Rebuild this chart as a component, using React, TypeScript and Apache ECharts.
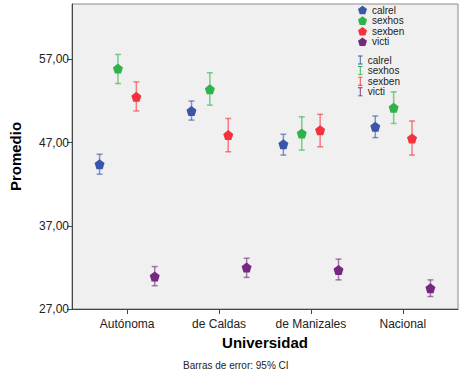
import React, { useEffect, useRef } from "react";
import * as echarts from "echarts";

const categories = ["Autónoma", "de Caldas", "de Manizales", "Nacional"];
const seriesNames = ["calrel", "sexhos", "sexben", "victi"];
const yTicks = [27, 37, 47, 57];

const calrelMean = [44.4, 50.8, 46.8, 48.9];
const calrelLow = [43.2, 49.7, 45.5, 47.6];
const calrelHigh = [45.6, 52.0, 48.0, 50.2];

const sexhosMean = [55.9, 53.4, 48.1, 51.2];
const sexhosLow = [54.1, 51.5, 46.1, 49.3];
const sexhosHigh = [57.6, 55.4, 50.1, 53.1];

const sexbenMean = [52.5, 47.9, 48.5, 47.5];
const sexbenLow = [50.8, 45.9, 46.5, 45.5];
const sexbenHigh = [54.3, 49.9, 50.4, 49.6];

const victiMean = [30.9, 32.0, 31.7, 29.5];
const victiLow = [29.8, 30.8, 30.5, 28.5];
const victiHigh = [32.1, 33.1, 33.0, 30.5];

const colors = ["#3b55a8", "#2fb24a", "#f2323c", "#76287f"];
const offsets = [-0.3, -0.1, 0.1, 0.3];
const pentagon =
  "path://M0,-1 L0.951,-0.309 L0.588,0.809 L-0.588,0.809 L-0.951,-0.309 Z";
const ibar = "path://M0,0H5V1H3V9H5V10H0V9H2V1H0Z";
const FONT = "Liberation Sans";

export default function App() {
  const ref = useRef<HTMLDivElement>(null);
  useEffect(() => {
    if (!ref.current) return;
    const chart = echarts.init(ref.current, null, { renderer: "svg" });
    const means = [calrelMean, sexhosMean, sexbenMean, victiMean];
    const lows = [calrelLow, sexhosLow, sexbenLow, victiLow];
    const highs = [calrelHigh, sexhosHigh, sexbenHigh, victiHigh];

    const errSeries = seriesNames.map((name, s) => ({
      name: name,
      type: "custom",
      itemStyle: { color: colors[s] },
      data: categories.map((_, i) => [i + 1 + offsets[s], lows[s][i], highs[s][i]]),
      renderItem: (params: any, api: any) => {
        const x = api.value(0);
        const lo = api.coord([x, api.value(1)]);
        const hi = api.coord([x, api.value(2)]);
        const st = { stroke: colors[s], lineWidth: 1.5, opacity: 0.6 };
        const w = 3;
        return {
          type: "group",
          children: [
            { type: "line", shape: { x1: lo[0], y1: lo[1], x2: hi[0], y2: hi[1] }, style: st },
            { type: "line", shape: { x1: lo[0] - w, y1: lo[1], x2: lo[0] + w, y2: lo[1] }, style: st },
            { type: "line", shape: { x1: hi[0] - w, y1: hi[1], x2: hi[0] + w, y2: hi[1] }, style: st },
          ],
        };
      },
      z: 1,
    }));

    const markSeries = seriesNames.map((name, s) => ({
      name: name,
      type: "scatter",
      symbol: pentagon,
      symbolSize: 10,
      itemStyle: { color: colors[s], opacity: 1 },
      data: categories.map((_, i) => [i + 1 + offsets[s], means[s][i]]),
      z: 3,
    }));

    chart.setOption({
      animation: false,
      backgroundColor: "#ffffff",
      textStyle: { fontFamily: FONT },
      grid: {
        left: 65,
        top: 4,
        right: 6,
        bottom: 75,
        show: true,
        backgroundColor: "#f0f0f0",
        borderColor: "#8a8a8a",
        borderWidth: 1,
      },
      legend: [
        {
          data: seriesNames,
          orient: "vertical",
          left: 358,
          top: 5,
          itemWidth: 9,
          itemHeight: 9,
          itemGap: 0.6,
          icon: pentagon,
          selectedMode: false,
          padding: 0,
          textStyle: { fontSize: 10, color: "#222", lineHeight: 10, height: 10, fontFamily: FONT },
        },
        {
          data: seriesNames,
          orient: "vertical",
          left: 358,
          top: 55,
          itemWidth: 5,
          itemHeight: 9,
          itemGap: 0.6,
          icon: ibar,
          selectedMode: false,
          padding: 0,
          textStyle: { fontSize: 10, color: "#222", lineHeight: 10, height: 10, fontFamily: FONT },
        },
      ],
      xAxis: {
        type: "value",
        min: 0.4,
        max: 4.6,
        name: "Universidad",
        nameLocation: "middle",
        nameGap: 26,
        nameTextStyle: { fontSize: 15, fontWeight: "bold", color: "#000", fontFamily: FONT },
        axisLine: { show: true, lineStyle: { color: "#444", width: 1 } },
        axisTick: { show: true, customValues: [1, 2, 3, 4], length: 5, lineStyle: { color: "#444" } },
        axisLabel: {
          customValues: [1, 2, 3, 4],
          formatter: (v: number) => categories[Math.round(v) - 1] || "",
          fontSize: 12,
          color: "#222",
          margin: 9,
          fontFamily: FONT,
        },
        splitLine: { show: false },
      },
      yAxis: {
        type: "value",
        min: 27,
        max: 63.66,
        interval: 10,
        name: "Promedio",
        nameLocation: "middle",
        nameGap: 49,
        nameTextStyle: { fontSize: 15, fontWeight: "bold", color: "#000", fontFamily: FONT },
        axisLine: { show: true, lineStyle: { color: "#444", width: 1 } },
        axisTick: { show: true, length: 5, lineStyle: { color: "#444" } },
        axisLabel: {
          formatter: (v: number) => (yTicks.indexOf(Math.round(v)) >= 0 ? v.toFixed(2).replace(".", ",") : ""),
          fontSize: 12,
          color: "#222",
          margin: 3,
          showMaxLabel: false,
          fontFamily: FONT,
        },
        splitLine: { show: false },
      },
      graphic: [
        {
          type: "text",
          left: 183,
          top: 360,
          style: { text: "Barras de error: 95% CI", fontSize: 10, fill: "#222", fontFamily: FONT },
        },
      ],
      series: [...errSeries, ...markSeries],
    });
    return () => chart.dispose();
  }, []);
  return (
    <div
      ref={ref}
      style={{ position: "fixed", left: 0, top: 0, width: 464, height: 384 }}
    />
  );
}
